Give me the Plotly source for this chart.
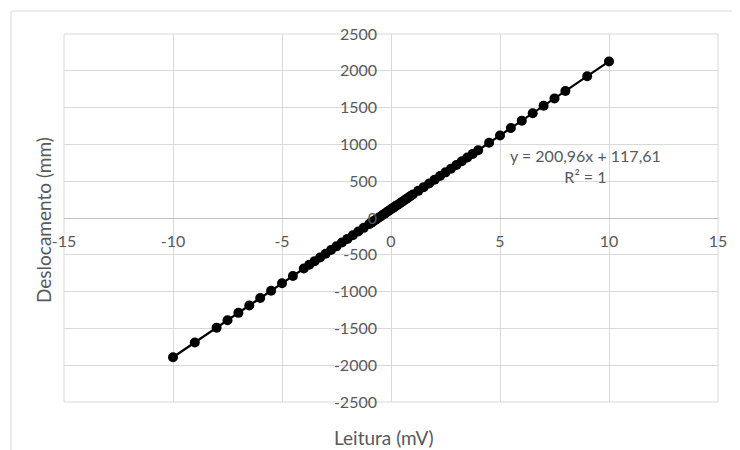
import plotly.graph_objects as go

leitura_mv = [-10, -9, -8, -7.5, -7, -6.5, -6, -5.5, -5, -4.5, -4, -3.75, -3.5, -3.25, -3,
              -2.75, -2.5, -2.25, -2, -1.75, -1.5, -1.25, -1, -0.9, -0.8, -0.7, -0.6, -0.5,
              -0.4, -0.3, -0.2, -0.1, 0, 0.1, 0.2, 0.3, 0.4, 0.5, 0.6, 0.7, 0.8, 0.9, 1,
              1.25, 1.5, 1.75, 2, 2.25, 2.5, 2.75, 3, 3.25, 3.5, 3.75, 4, 4.5, 5, 5.5, 6,
              6.5, 7, 7.5, 8, 9, 10]
deslocamento_mm = [-1892, -1691, -1490, -1390, -1289, -1189, -1088, -988, -887, -787, -686,
                   -636, -586, -536, -485, -435, -385, -334, -284, -234, -184, -134, -83,
                   -63, -43, -23, -3, 17, 37, 57, 77, 98, 118, 138, 158, 178, 198, 218, 238,
                   258, 278, 298, 319, 369, 419, 469, 520, 570, 620, 670, 720, 771, 821, 871,
                   921, 1022, 1122, 1223, 1323, 1424, 1524, 1625, 1725, 1926, 2127]

x_ticks = [-15, -10, -5, 0, 5, 10, 15]
y_ticks = [-2500, -2000, -1500, -1000, -500, 0, 500, 1000, 1500, 2000, 2500]

equation_text = "y = 200,96x + 117,61<br>R² = 1"

FONT = "Lato"
TXT = "#595959"
GRID = "#d9d9d9"

# page body has an 8px margin; plot area spans screen px x 64..718, y 34..402
PW, PH = 654.0, 368.0


def px(sx):
    return (sx - 64) / PW


def py(sy):
    return (402 - sy) / PH


fig = go.Figure()
fig.add_trace(go.Scatter(
    x=leitura_mv, y=deslocamento_mm, mode="lines+markers",
    line=dict(color="black", width=2.2),
    marker=dict(color="black", size=10),
    showlegend=False, cliponaxis=False,
))

fig.update_layout(
    width=732, height=442,
    margin=dict(l=56, r=22, t=26, b=48),
    paper_bgcolor="white", plot_bgcolor="white",
    font=dict(family=FONT, size=16, color=TXT),
    xaxis=dict(range=[-15, 15], tickvals=x_ticks, ticktext=[str(v) for v in x_ticks],
               showgrid=True, gridcolor=GRID, gridwidth=1,
               zeroline=True, zerolinecolor=GRID, zerolinewidth=1,
               showline=False, ticks="", anchor="free", position=0.5,
               ticklabelstandoff=12, tickfont=dict(family=FONT, size=16, color=TXT)),
    yaxis=dict(range=[-2500, 2500], tickvals=y_ticks, ticktext=[str(v) for v in y_ticks],
               showgrid=True, gridcolor=GRID, gridwidth=1,
               zeroline=True, zerolinecolor="#bfbfbf", zerolinewidth=1,
               showline=False, ticks="", anchor="free", position=0.5,
               ticklabelstandoff=14, tickfont=dict(family=FONT, size=16, color=TXT)),
)

# plot-area frame and outer chart border
fig.add_shape(type="rect", xref="paper", yref="paper", x0=0, x1=1, y0=0, y1=1,
              line=dict(color=GRID, width=1), layer="below")
fig.add_shape(type="line", xref="paper", yref="paper", x0=px(11), x1=px(760), y0=py(11), y1=py(11),
              line=dict(color=GRID, width=1))
fig.add_shape(type="line", xref="paper", yref="paper", x0=px(11), x1=px(11), y0=py(11), y1=py(470),
              line=dict(color=GRID, width=1))

fig.add_annotation(x=8.94, y=713, xref="x", yref="y", text=equation_text, showarrow=False,
                   align="center", font=dict(family=FONT, size=16, color=TXT))
fig.add_annotation(x=px(43), y=py(220), xref="paper", yref="paper", text="Deslocamento (mm)",
                   xanchor="center", yanchor="middle",
                   showarrow=False, textangle=-90, font=dict(family=FONT, size=19, color=TXT))
fig.add_annotation(x=px(384), y=py(437), xref="paper", yref="paper",
                   xanchor="center", yanchor="middle",
                   text="Leitura (mV)", showarrow=False,
                   font=dict(family=FONT, size=19, color=TXT))

fig.write_html("out.html")
